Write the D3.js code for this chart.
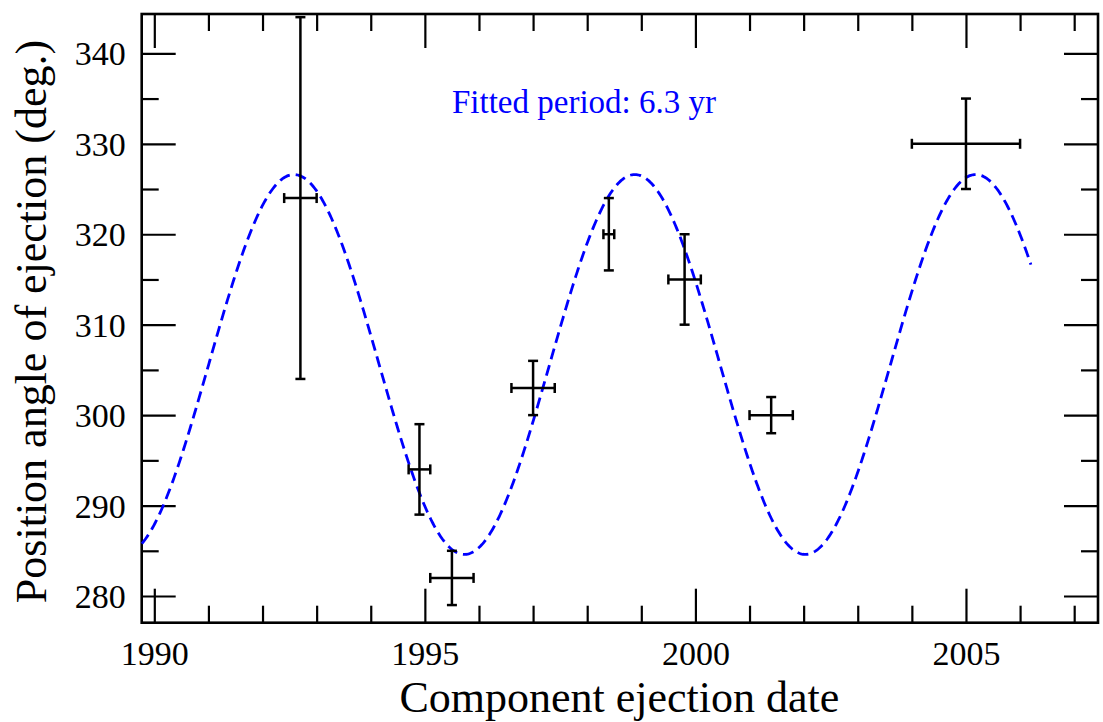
<!DOCTYPE html>
<html>
<head>
<meta charset="utf-8">
<script src="https://cdn.jsdelivr.net/npm/d3@7"></script>
<style>
  html, body { margin: 0; padding: 0; background: #fff; }
  svg { display: block; font-family: "Liberation Serif", "Times New Roman", serif; }
</style>
</head>
<body>
<svg id="chart" width="1103" height="722"></svg>
<script>
// Component ejections: date (yr) with error, position angle (deg) with error
const dates     = [1992.7, 1994.9, 1995.5, 1997.0, 1998.4, 1999.8, 2001.4, 2005.0];
const dateErr   = [0.3, 0.2, 0.4, 0.4, 0.1, 0.3, 0.4, 1.0];
const angles    = [324, 294, 282, 303, 320, 315, 300, 330];
const angleErr  = [20, 5, 3, 3, 4, 5, 2, 5];

// Sinusoidal fit to the position angles
const fitPeriod    = 6.3;      // yr
const fitMean      = 305.6;    // deg
const fitAmplitude = 21.0;     // deg
const fitEpochMax  = 1992.58;  // date of a maximum
const fitStart     = 1989.77;
const fitEnd       = 2006.2;

// Tick values and labels
const xMajorTicks = [1990, 1995, 2000, 2005];
const xMinorTicks = [1991, 1992, 1993, 1994, 1996, 1997, 1998, 1999, 2001, 2002, 2003, 2004, 2006, 2007];
const yMajorTicks = [280, 290, 300, 310, 320, 330, 340];
const yMinorTicks = [285, 295, 305, 315, 325, 335];

const xTitle = "Component ejection date";
const yTitle = "Position angle of ejection (deg.)";
const fitLabel = `Fitted period: ${fitPeriod} yr`;

const svg = d3.select("#chart");
const plotL = 141.7, plotR = 1098, plotT = 14, plotB = 622.7;

const x = d3.scaleLinear().domain([1989.767, 2007.44]).range([plotL, plotR]);
const y = d3.scaleLinear().domain([277.05, 344.35]).range([plotB, plotT]);

const major = 34, minor = 17;

function styleAxis(g) {
  g.select(".domain").remove();
  g.selectAll(".tick line").attr("stroke", "#000").attr("stroke-width", 2.2);
}

// Bottom axis: labelled major ticks pointing inward, plus minor ticks
svg.append("g").attr("transform", `translate(0,${plotB})`)
  .call(d3.axisBottom(x).tickValues(xMajorTicks).tickFormat(d3.format("d")).tickSize(-major))
  .call(styleAxis)
  .call(g => g.selectAll(".tick text")
    .attr("y", 42).attr("dy", 0).attr("fill", "#000")
    .attr("font-size", 34).attr("font-family", "Liberation Serif"));
svg.append("g").attr("transform", `translate(0,${plotB})`)
  .call(d3.axisBottom(x).tickValues(xMinorTicks).tickFormat("").tickSize(-minor))
  .call(styleAxis);

// Top axis (ticks only)
svg.append("g").attr("transform", `translate(0,${plotT})`)
  .call(d3.axisTop(x).tickValues(xMajorTicks).tickFormat("").tickSize(-major))
  .call(styleAxis);
svg.append("g").attr("transform", `translate(0,${plotT})`)
  .call(d3.axisTop(x).tickValues(xMinorTicks).tickFormat("").tickSize(-minor))
  .call(styleAxis);

// Left axis with labels
svg.append("g").attr("transform", `translate(${plotL},0)`)
  .call(d3.axisLeft(y).tickValues(yMajorTicks).tickFormat(d3.format("d")).tickSize(-major))
  .call(styleAxis)
  .call(g => g.selectAll(".tick text")
    .attr("x", -16).attr("dy", "0.34em").attr("fill", "#000")
    .attr("font-size", 34).attr("font-family", "Liberation Serif"));
svg.append("g").attr("transform", `translate(${plotL},0)`)
  .call(d3.axisLeft(y).tickValues(yMinorTicks).tickFormat("").tickSize(-minor))
  .call(styleAxis);

// Right axis (ticks only)
svg.append("g").attr("transform", `translate(${plotR},0)`)
  .call(d3.axisRight(y).tickValues(yMajorTicks).tickFormat("").tickSize(-major))
  .call(styleAxis);
svg.append("g").attr("transform", `translate(${plotR},0)`)
  .call(d3.axisRight(y).tickValues(yMinorTicks).tickFormat("").tickSize(-minor))
  .call(styleAxis);

// Plot frame
svg.append("rect")
  .attr("x", plotL).attr("y", plotT)
  .attr("width", plotR - plotL).attr("height", plotB - plotT)
  .attr("fill", "none").attr("stroke", "#000").attr("stroke-width", 2.6);

// Fitted sinusoid, dashed blue
const fitTimes = d3.range(fitStart, fitEnd, 0.02).concat([fitEnd]);
const fitValue = t => fitMean + fitAmplitude * Math.cos(2 * Math.PI * (t - fitEpochMax) / fitPeriod);
svg.append("path")
  .datum(fitTimes)
  .attr("fill", "none")
  .attr("stroke", "#0000ff")
  .attr("stroke-width", 2.8)
  .attr("stroke-dasharray", "11,6")
  .attr("d", d3.line().x(t => x(t)).y(t => y(fitValue(t))));

// Error bars
const cap = 5;
const points = dates.map((d, i) => ({ t: d, dt: dateErr[i], a: angles[i], da: angleErr[i] }));
const eb = svg.append("g").attr("stroke", "#000").attr("stroke-width", 2.5).attr("fill", "none");
points.forEach(p => {
  const g = eb.append("g");
  const cx = x(p.t), cy = y(p.a);
  const x0 = x(p.t - p.dt), x1 = x(p.t + p.dt);
  const y0 = y(p.a - p.da), y1 = y(p.a + p.da);
  // horizontal bar and caps
  g.append("line").attr("x1", x0).attr("x2", x1).attr("y1", cy).attr("y2", cy);
  g.append("line").attr("x1", x0).attr("x2", x0).attr("y1", cy - cap).attr("y2", cy + cap);
  g.append("line").attr("x1", x1).attr("x2", x1).attr("y1", cy - cap).attr("y2", cy + cap);
  // vertical bar and caps
  g.append("line").attr("x1", cx).attr("x2", cx).attr("y1", y0).attr("y2", y1);
  g.append("line").attr("x1", cx - cap).attr("x2", cx + cap).attr("y1", y0).attr("y2", y0);
  g.append("line").attr("x1", cx - cap).attr("x2", cx + cap).attr("y1", y1).attr("y2", y1);
});

// Fit annotation
svg.append("text")
  .attr("x", 452).attr("y", 113)
  .attr("fill", "#0000ff")
  .attr("font-size", 33)
  .text(fitLabel);

// Axis titles
svg.append("text")
  .attr("x", (plotL + plotR) / 2 - 0.5).attr("y", 712)
  .attr("text-anchor", "middle")
  .attr("font-size", 44)
  .attr("fill", "#000")
  .text(xTitle);

svg.append("text")
  .attr("transform", `translate(46,${(38 + 605) / 2}) rotate(-90)`)
  .attr("text-anchor", "middle")
  .attr("font-size", 44)
  .attr("fill", "#000")
  .text(yTitle);
</script>
</body>
</html>
